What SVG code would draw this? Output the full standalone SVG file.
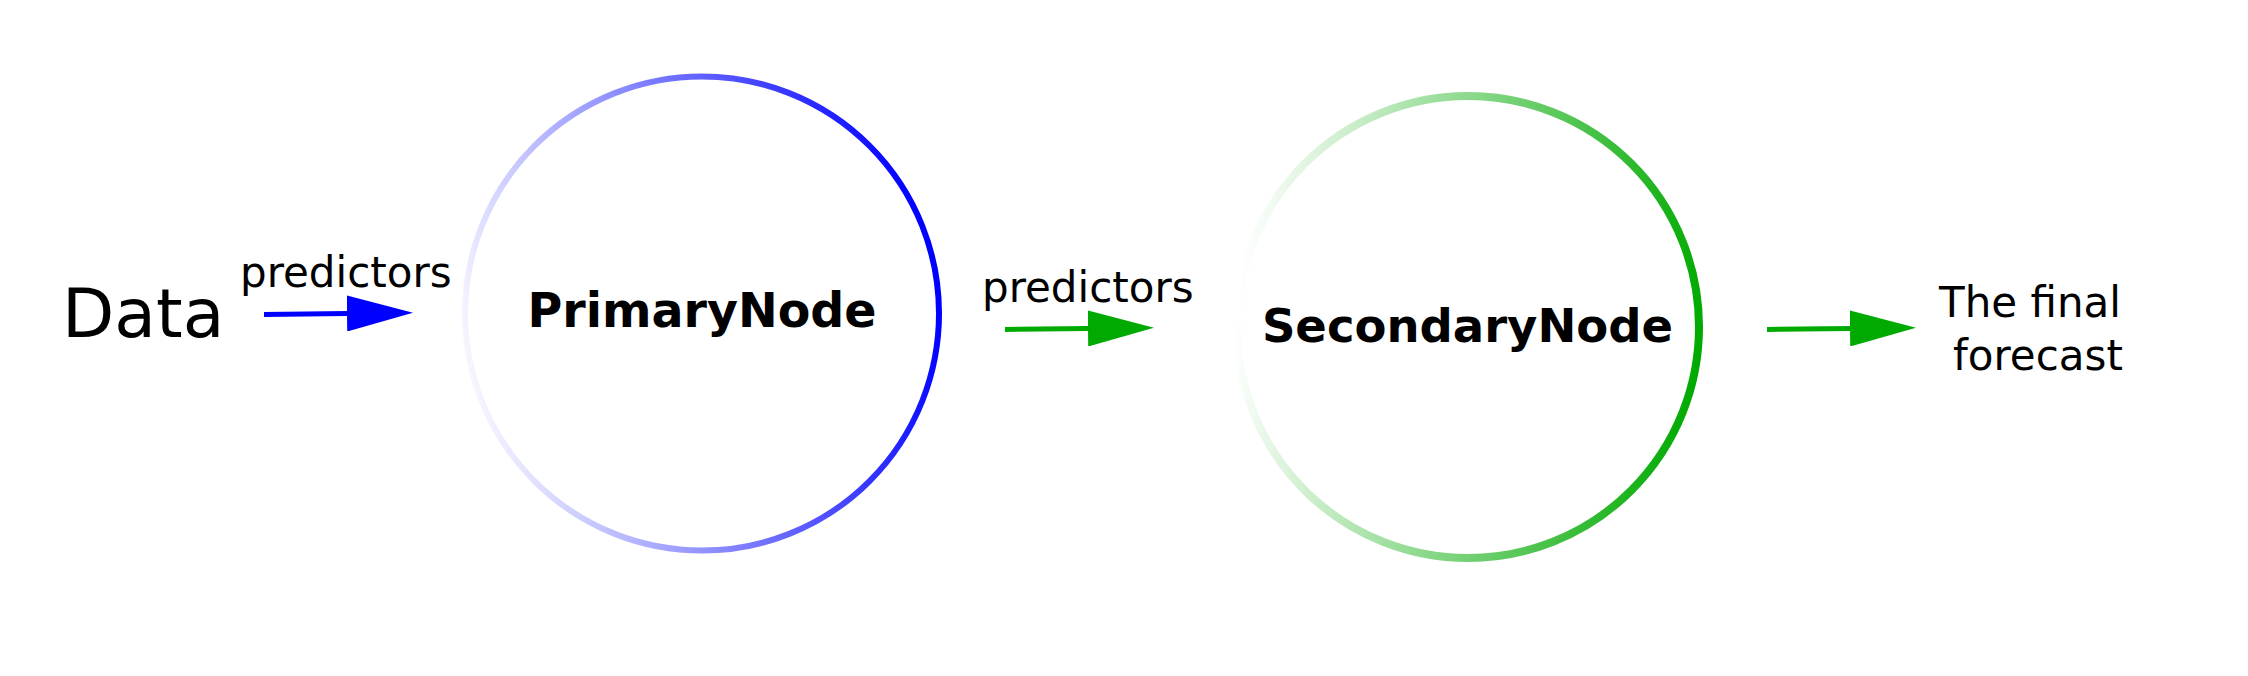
<svg xmlns="http://www.w3.org/2000/svg" width="2248" height="676" viewBox="0 0 2248 676">
<style>
.lbl{font-family:"DejaVu Sans",sans-serif;fill:#000}
.node{font-family:"DejaVu Sans",sans-serif;font-weight:bold;fill:#000;text-anchor:middle}
.blue{stroke:#0000ff;stroke-width:5;fill:none}
.green{stroke:#00aa00;stroke-width:5;fill:none}
</style>
<defs>
<linearGradient id="gBlue" x1="-0.03" y1="0.61" x2="0.98" y2="0.40">
<stop offset="0" stop-color="#0000ff" stop-opacity="0"/>
<stop offset="1" stop-color="#0000ff" stop-opacity="1"/>
</linearGradient>
<linearGradient id="gGreen" x1="0" y1="0.45" x2="1" y2="0.55">
<stop offset="0" stop-color="#00aa00" stop-opacity="0"/>
<stop offset="1" stop-color="#00aa00" stop-opacity="1"/>
</linearGradient>
<marker id="hBlue" markerUnits="userSpaceOnUse" markerWidth="66" markerHeight="36" refX="0" refY="18" orient="auto" viewBox="0 0 66 36">
<path d="M0,0 L66,18 L0,36 Z" fill="#0000ff"/>
</marker>
<marker id="hGreen" markerUnits="userSpaceOnUse" markerWidth="66" markerHeight="36" refX="0" refY="18" orient="auto" viewBox="0 0 66 36">
<path d="M0,0 L66,18 L0,36 Z" fill="#00aa00"/>
</marker>
</defs>
<rect width="2248" height="676" fill="#ffffff"/>
<g id="data">
<text class="lbl" x="62" y="337" font-size="68">Data</text>
</g>
<g id="primary">
<circle cx="702" cy="313.5" r="237" fill="#ffffff" stroke="url(#gBlue)" stroke-width="6"/>
<text class="node" x="702" y="327" font-size="47.5">PrimaryNode</text>
</g>
<g id="secondary">
<circle cx="1468" cy="327" r="231" fill="#ffffff" stroke="url(#gGreen)" stroke-width="8"/>
<text class="node" x="1467.5" y="342" font-size="46.5">SecondaryNode</text>
</g>
<g id="forecast">
<text class="lbl" font-size="42"><tspan x="1939" y="317">The final</tspan><tspan x="1953" y="370">forecast</tspan></text>
</g>
<g id="connectors">
<line class="blue" x1="264" y1="314.5" x2="347" y2="313.5" marker-end="url(#hBlue)"/>
<text class="lbl" x="240" y="287" font-size="42">predictors</text>
<line class="green" x1="1005" y1="329.5" x2="1088" y2="328.5" marker-end="url(#hGreen)"/>
<text class="lbl" x="982" y="302" font-size="42">predictors</text>
<line class="green" x1="1767" y1="329.5" x2="1850" y2="328.5" marker-end="url(#hGreen)"/>
</g>
</svg>
